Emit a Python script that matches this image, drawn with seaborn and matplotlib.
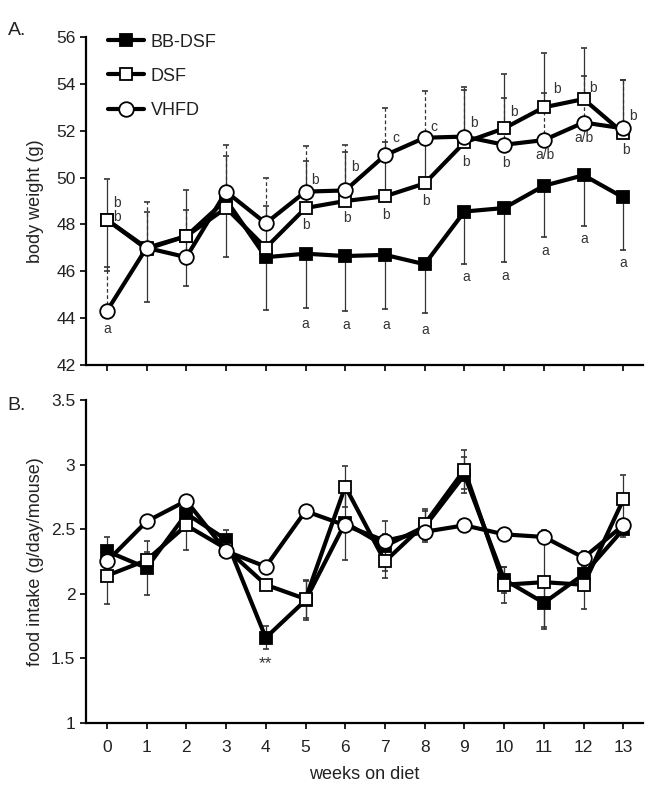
import matplotlib
matplotlib.use('Agg')
import matplotlib.pyplot as plt
import seaborn as sns
from matplotlib.ticker import FormatStrFormatter

weeks = list(range(14))
grupos = ['BB-DSF', 'DSF', 'VHFD']

# A. peso corporal (g)
bw_bb = [48.2, 47.0, 47.5, 49.05, 46.6, 46.75, 46.65, 46.7, 46.3, 48.55, 48.7, 49.65, 50.1, 49.15]
bw_dsf = [48.2, 46.95, 47.5, 48.7, 47.0, 48.7, 49.0, 49.2, 49.75, 51.5, 52.1, 53.0, 53.35, 51.9]
bw_vhfd = [44.3, 47.0, 46.6, 49.4, 48.05, 49.4, 49.45, 50.95, 51.7, 51.75, 51.4, 51.6, 52.35, 52.1]
bw_bb_err = [2.2, 2.3, 2.15, 2.45, 2.25, 2.3, 2.35, 2.3, 2.1, 2.25, 2.3, 2.2, 2.15, 2.25]   # para baixo
bw_dsf_err = [1.75, 1.6, 1.95, 2.2, 1.8, 2.0, 2.1, 2.3, 2.05, 2.35, 2.3, 2.3, 2.2, 2.25]   # para cima
bw_vhfd_err = [1.9, 1.95, 2.0, 2.0, 1.95, 1.95, 1.95, 2.0, 2.0, 2.0, 2.0, 2.0, 2.0, 2.05]  # para cima

letras_txt = ['b', 'b', 'a', 'b', 'b', 'b', 'b', 'c', 'b', 'c', 'b', 'b', 'b', 'b', 'b',
              'b', 'a/b', 'b', 'a/b', 'b', 'b',
              'a', 'a', 'a', 'a', 'a', 'a', 'a', 'a', 'a']
letras_x = [0.25, 0.25, 0.0, 5.24, 5.0, 6.25, 6.05, 7.28, 7.03, 8.24, 8.04, 9.24, 9.04, 10.25, 10.05,
            11.34, 11.03, 12.24, 12.02, 13.25, 13.07,
            5.0, 6.02, 7.03, 8.01, 9.04, 10.03, 11.03, 12.02, 13.0]
letras_y = [48.92, 48.32, 43.54, 49.9, 47.98, 50.45, 48.27, 51.69, 48.4, 52.16, 49.0, 52.33, 50.66, 52.8, 50.62,
            53.78, 50.96, 53.82, 51.69, 52.63, 51.18,
            43.75, 43.71, 43.71, 43.5, 45.76, 45.8, 46.87, 47.38, 46.35]

# B. consumo de ração (g/dia/camundongo)
fi_bb = [2.33, 2.2, 2.62, 2.42, 1.66, 1.95, 2.55, 2.37, 2.52, 2.92, 2.11, 1.93, 2.15, 2.5]
fi_dsf = [2.14, 2.26, 2.53, 2.35, 2.07, 1.96, 2.83, 2.25, 2.54, 2.96, 2.07, 2.09, 2.07, 2.73]
fi_vhfd = [2.25, 2.56, 2.72, 2.33, 2.21, 2.64, 2.53, 2.41, 2.48, 2.53, 2.46, 2.44, 2.28, 2.53]
fi_bb_err = [0.11, 0.21, 0.05, 0.07, 0.09, 0.15, 0.29, 0.19, 0.12, 0.14, 0.1, 0.2, 0.06, 0.06]
fi_dsf_err = [0.22, 0.06, 0.19, 0.05, 0.04, 0.15, 0.16, 0.13, 0.12, 0.15, 0.14, 0.35, 0.19, 0.19]
fi_vhfd_err = [0.05, 0.04, 0.03, 0.04, 0.04, 0.05, 0.05, 0.05, 0.05, 0.05, 0.05, 0.05, 0.05, 0.05]

sns.set_style('ticks')
plt.rcParams['font.family'] = ['Liberation Sans', 'DejaVu Sans']
cor_txt = '#222222'
plt.rcParams['text.color'] = cor_txt
plt.rcParams['axes.labelcolor'] = cor_txt
plt.rcParams['xtick.color'] = cor_txt
plt.rcParams['ytick.color'] = cor_txt

fig = plt.figure(figsize=(6.55, 7.96), dpi=100)
ax1 = fig.add_axes([0.131, 0.5415, 0.851, 0.412])
ax2 = fig.add_axes([0.131, 0.0917, 0.851, 0.4058])

estilos = {
    'BB-DSF': dict(marker='s', ms=9, mfc='black'),
    'DSF': dict(marker='s', ms=9, mfc='white'),
    'VHFD': dict(marker='o', ms=10.5, mfc='white'),
}


def barras(ax, y, lo, hi, tracejado=False, cor='#333333'):
    eb = ax.errorbar(weeks, y, yerr=[lo, hi], fmt='none', ecolor=cor, elinewidth=0.9,
                     capsize=2.5, capthick=1.2, zorder=1)
    if tracejado:
        eb[2][0].set_linestyle((0, (3, 2)))


def linhas(ax, series, legenda):
    for i, (nome, y) in enumerate(zip(grupos, series)):
        sns.lineplot(x=weeks, y=y, ax=ax, color='black', lw=3, mec='black', mew=1.3,
                     label=nome if legenda else None, legend=False, zorder=3 + i, **estilos[nome])


zeros = [0] * 14
barras(ax1, bw_bb, bw_bb_err, zeros)
barras(ax1, bw_dsf, zeros, bw_dsf_err)
barras(ax1, bw_vhfd, zeros, bw_vhfd_err, tracejado=True)
linhas(ax1, [bw_bb, bw_dsf, bw_vhfd], True)
for t, x, y in zip(letras_txt, letras_x, letras_y):
    ax1.text(x, y, t, fontsize=10, ha='center', va='center', color='#333333')

barras(ax2, fi_bb, fi_bb_err, fi_bb_err)
barras(ax2, fi_dsf, fi_dsf_err, fi_dsf_err)
barras(ax2, fi_vhfd, fi_vhfd_err, fi_vhfd_err)
linhas(ax2, [fi_bb, fi_dsf, fi_vhfd], False)
ax2.text(4, 1.46, '**', fontsize=12.5, ha='center', va='center', color='#333333')

for ax in [ax1, ax2]:
    ax.set_xlim(-0.53, 13.5)
    ax.set_xticks(weeks)
    for lado in ['top', 'right']:
        ax.spines[lado].set_visible(False)
    for lado in ['left', 'bottom']:
        ax.spines[lado].set_linewidth(1.6)
        ax.spines[lado].set_color('black')
    ax.tick_params(direction='out', length=4, width=1.4, labelsize=12.5)
    ax.set_xlabel('')

ax1.set_ylim(42, 56)
ax1.set_yticks(range(42, 57, 2))
ax1.tick_params(axis='x', labelbottom=False)
ax1.set_ylabel('body weight (g)', fontsize=13)
ax1.yaxis.set_label_coords(-0.075, 0.5)

ax2.set_ylim(1, 3.5)
ax2.set_yticks([1, 1.5, 2, 2.5, 3, 3.5])
ax2.yaxis.set_major_formatter(FormatStrFormatter('%g'))
ax2.tick_params(axis='x', pad=8)
ax2.set_ylabel('food intake (g/day/mouse)', fontsize=13)
ax2.yaxis.set_label_coords(-0.075, 0.5)
ax2.set_xlabel('weeks on diet', fontsize=13, labelpad=8)

ax1.legend(loc='upper left', bbox_to_anchor=(0.01, 1.06), frameon=False, fontsize=13,
           handlelength=2.0, labelspacing=0.95, handletextpad=0.4)

fig.text(0.012, 0.962, 'A.', fontsize=14, va='center')
fig.text(0.012, 0.491, 'B.', fontsize=14, va='center')

plt.savefig('out.png', dpi=100)
